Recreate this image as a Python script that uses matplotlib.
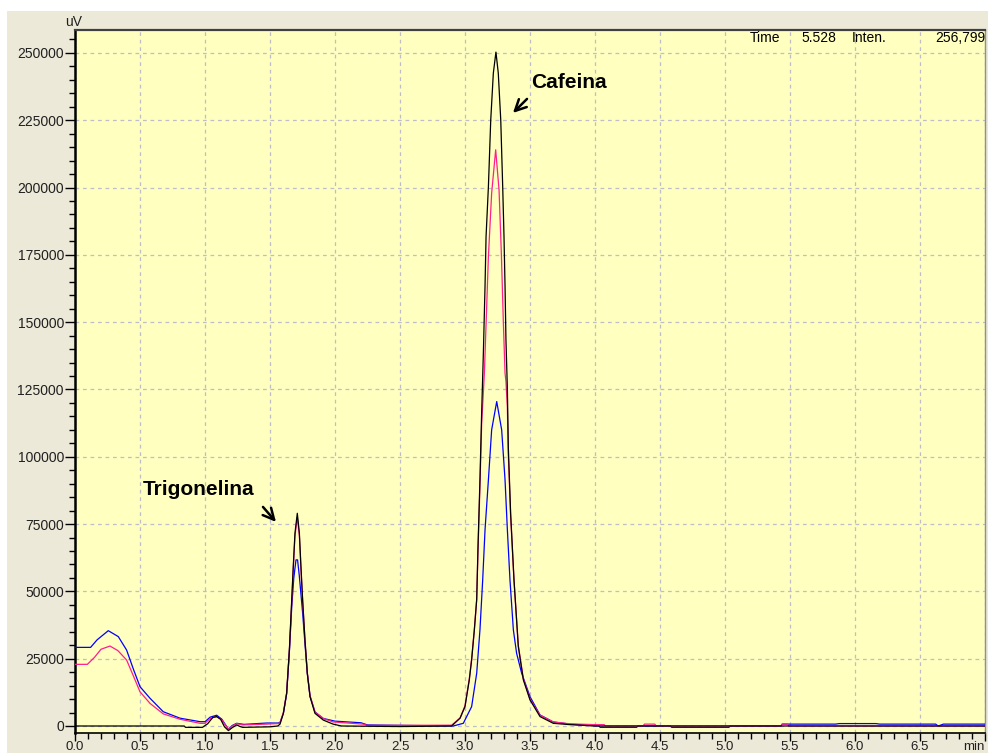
import matplotlib
matplotlib.use('Agg')
import matplotlib.pyplot as plt
from matplotlib.ticker import MultipleLocator
from matplotlib.patches import Rectangle

# ---- data (time in min, signal in uV) ----
t_black = [0.0, 0.84, 0.85, 0.98, 1.02, 1.06, 1.09, 1.12, 1.15, 1.18, 1.21, 1.244, 1.27, 1.29,
           1.50, 1.56, 1.577, 1.603, 1.628, 1.649, 1.667, 1.679, 1.692, 1.710, 1.726, 1.738,
           1.751, 1.769, 1.787, 1.808, 1.846, 1.910, 1.985, 2.05, 2.5, 2.897, 2.962, 3.000,
           3.033, 3.051, 3.072, 3.09, 3.100, 3.115, 3.128, 3.141, 3.154, 3.162, 3.180, 3.198,
           3.218, 3.238, 3.256, 3.275, 3.290, 3.300, 3.308, 3.315, 3.326, 3.333, 3.351, 3.377,
           3.41, 3.449, 3.5, 3.577, 3.679, 3.808, 4.0, 7.0]
y_black = [0, 0, -500, -500, 800, 3200, 3500, 2500, -300, -1700, -600, 400, -200, -500,
           -300, 0, 700, 4700, 12100, 28200, 46800, 59200, 71600, 79000, 71600, 59200,
           46800, 31900, 19600, 10900, 4700, 2200, 700, 0, -200, 0, 2900, 7200,
           17100, 24500, 35700, 47000, 66600, 91400, 116200, 138000, 163200, 181800, 200300, 225100,
           242500, 250300, 242500, 225100, 200300, 181800, 163200, 143400, 125000, 103800, 79000, 54200,
           29500, 17100, 9700, 3500, 1000, 500, 0, 0]

t_pink = [0.0, 0.095, 0.15, 0.20, 0.269, 0.33, 0.397, 0.45, 0.5, 0.577, 0.679, 0.808, 0.962,
          1.00, 1.04, 1.09, 1.13, 1.18, 1.21, 1.244, 1.29, 1.474, 1.56, 1.577, 1.603, 1.628,
          1.649, 1.667, 1.679, 1.692, 1.710, 1.726, 1.738, 1.751, 1.769, 1.787, 1.808, 1.846,
          1.910, 1.985, 2.215, 2.25, 2.897, 2.962, 3.0, 3.033, 3.051, 3.072, 3.09, 3.10, 3.115,
          3.128, 3.149, 3.18, 3.205, 3.236, 3.262, 3.280, 3.295, 3.308, 3.315, 3.326, 3.333,
          3.351, 3.377, 3.41, 3.449, 3.5, 3.577, 3.679, 3.808, 4.0, 4.07, 4.08, 4.37, 4.38,
          4.46, 4.47, 5.43, 5.44, 5.48, 5.49, 7.0]
y_pink = [22900, 22900, 25500, 28500, 29700, 28000, 24500, 18500, 12700, 8400, 4500, 2500, 1000,
          1000, 2800, 3500, 2200, -1200, 0, 900, 400, 700, 900, 1200, 5000, 12300,
          28000, 46000, 58500, 70500, 77500, 70500, 58500, 46500, 32000, 19800, 11300, 5200,
          2800, 1500, 700, 200, 300, 3000, 7500, 17500, 25000, 36000, 47000, 65000, 89000,
          112000, 131000, 174300, 197900, 214000, 199000, 175000, 150000, 131000, 128000, 118000, 101000,
          78000, 54000, 30000, 17500, 10000, 4000, 1500, 800, 500, 500, 0, 0, 700,
          700, 0, 0, 700, 700, 0, 0]

t_blue = [0.0, 0.12, 0.17, 0.256, 0.333, 0.397, 0.45, 0.5, 0.577, 0.679, 0.808, 0.962, 1.00,
          1.04, 1.09, 1.13, 1.18, 1.21, 1.244, 1.30, 1.474, 1.56, 1.577, 1.603, 1.628, 1.649,
          1.667, 1.683, 1.700, 1.712, 1.725, 1.738, 1.751, 1.769, 1.787, 1.808, 1.846, 1.910,
          2.0, 2.2, 2.25, 2.91, 2.987, 3.051, 3.09, 3.115, 3.136, 3.154, 3.18, 3.205, 3.244,
          3.282, 3.308, 3.326, 3.346, 3.372, 3.397, 3.436, 3.5, 3.577, 3.679, 3.808, 4.03,
          4.04, 4.32, 4.33, 4.58, 4.59, 5.03, 5.04, 5.43, 5.44, 5.85, 5.88, 6.16, 6.19,
          6.62, 6.64, 6.68, 7.0]
y_blue = [29200, 29200, 32000, 35400, 33200, 28200, 21000, 14600, 10300, 5300, 2900, 1600, 1600,
          3300, 4000, 2500, -1200, 200, 1000, 600, 1100, 1100, 1300, 4800, 12000, 27500,
          44000, 55000, 61700, 61700, 56000, 49000, 42000, 30500, 19500, 11000, 5200, 2800,
          1800, 1200, 400, 0, 1000, 7200, 19600, 35700, 54200, 72800, 91400, 110000, 120500,
          110000, 91400, 72800, 54200, 35700, 27000, 19600, 10900, 4100, 1500, 700, 0,
          -500, -500, 0, 0, -500, -500, 0, 0, 700, 700, 900, 900, 700,
          700, 0, 700, 700]

x_ticks = [0.0, 0.5, 1.0, 1.5, 2.0, 2.5, 3.0, 3.5, 4.0, 4.5, 5.0, 5.5, 6.0, 6.5, 7.0]
x_labels = ['0.0', '0.5', '1.0', '1.5', '2.0', '2.5', '3.0', '3.5', '4.0', '4.5', '5.0',
            '5.5', '6.0', '6.5', 'min']
y_ticks = [0, 25000, 50000, 75000, 100000, 125000, 150000, 175000, 200000, 225000, 250000]

W, H = 988., 753.
plt.rcParams['font.family'] = ['Liberation Sans', 'DejaVu Sans']

fig = plt.figure(figsize=(W/100, H/100), dpi=100)
fig.patch.set_facecolor('white')
# windows-style beige panel behind the plot
fig.patches.append(Rectangle((7/W, 0), 1 - 7/W, 1 - 11/H, transform=fig.transFigure,
                             facecolor='#ECE9D8', edgecolor='none', zorder=-5))

ax = fig.add_axes([75/W, 20/H, 910/W, 703/H])
ax.set_zorder(2)
ax.set_facecolor('#FFFFC0')

ax.plot(t_blue, y_blue, color='#0000FF', lw=0.9, zorder=3)
ax.plot(t_pink, y_pink, color='#FF1E8C', lw=0.9, zorder=4)
ax.plot(t_black, y_black, color='black', lw=0.9, zorder=5)

ax.set_xlim(0, 7.0)
ax.set_ylim(-2600, 258500)

ax.set_xticks(x_ticks)
ax.set_xticklabels(x_labels)
ax.get_xticklabels()[-1].set_horizontalalignment('right')
ax.set_yticks(y_ticks)
ax.set_yticklabels([str(v) for v in y_ticks])
ax.xaxis.set_minor_locator(MultipleLocator(0.1))
ax.yaxis.set_minor_locator(MultipleLocator(5000))
ax.tick_params(which='major', direction='out', length=7, width=1, pad=1,
               labelsize=10, color='black', labelcolor='#202020')
ax.tick_params(axis='x', which='major', length=6, pad=0, labelsize=9.5)
ax.tick_params(which='minor', direction='out', length=4, width=1, color='black')

ax.grid(True, which='major', color='#BEBECA', linestyle=(0, (3, 3)), lw=0.9)
ax.set_axisbelow(True)

ax.spines['left'].set_linewidth(1.8)
ax.spines['bottom'].set_linewidth(1.2)
ax.spines['top'].set_linewidth(1.6)
ax.spines['top'].set_color('#404040')
ax.spines['right'].set_linewidth(1.0)
ax.spines['right'].set_color('#909090')

# peak labels
arrow_kw = dict(arrowstyle='->', lw=1.8, color='black', shrinkA=0, shrinkB=0, mutation_scale=20)
ax.text(3.508, 238900, 'Cafeina', fontsize=15, fontweight='bold', va='center', ha='left')
ax.annotate('', xy=(3.369, 227700), xytext=(3.477, 232900), arrowprops=arrow_kw)
ax.text(0.523, 88000, 'Trigonelina', fontsize=15, fontweight='bold', va='center', ha='left')
ax.annotate('', xy=(1.546, 75790), xytext=(1.446, 81360), arrowprops=arrow_kw)

# header readout and axis units
fig.text(74/W, 1 - 22/H, 'uV', ha='center', va='center', fontsize=10, color='#202020')
fig.text(780/W, 1 - 38/H, 'Time', ha='right', va='center', fontsize=10, zorder=10)
fig.text(836/W, 1 - 38/H, '5.528', ha='right', va='center', fontsize=10, zorder=10)
fig.text(852/W, 1 - 38/H, 'Inten.', ha='left', va='center', fontsize=10, zorder=10)
fig.text(985/W, 1 - 38/H, '256,799', ha='right', va='center', fontsize=10, zorder=10)

fig.savefig('out.png', dpi=100)
plt.close(fig)
